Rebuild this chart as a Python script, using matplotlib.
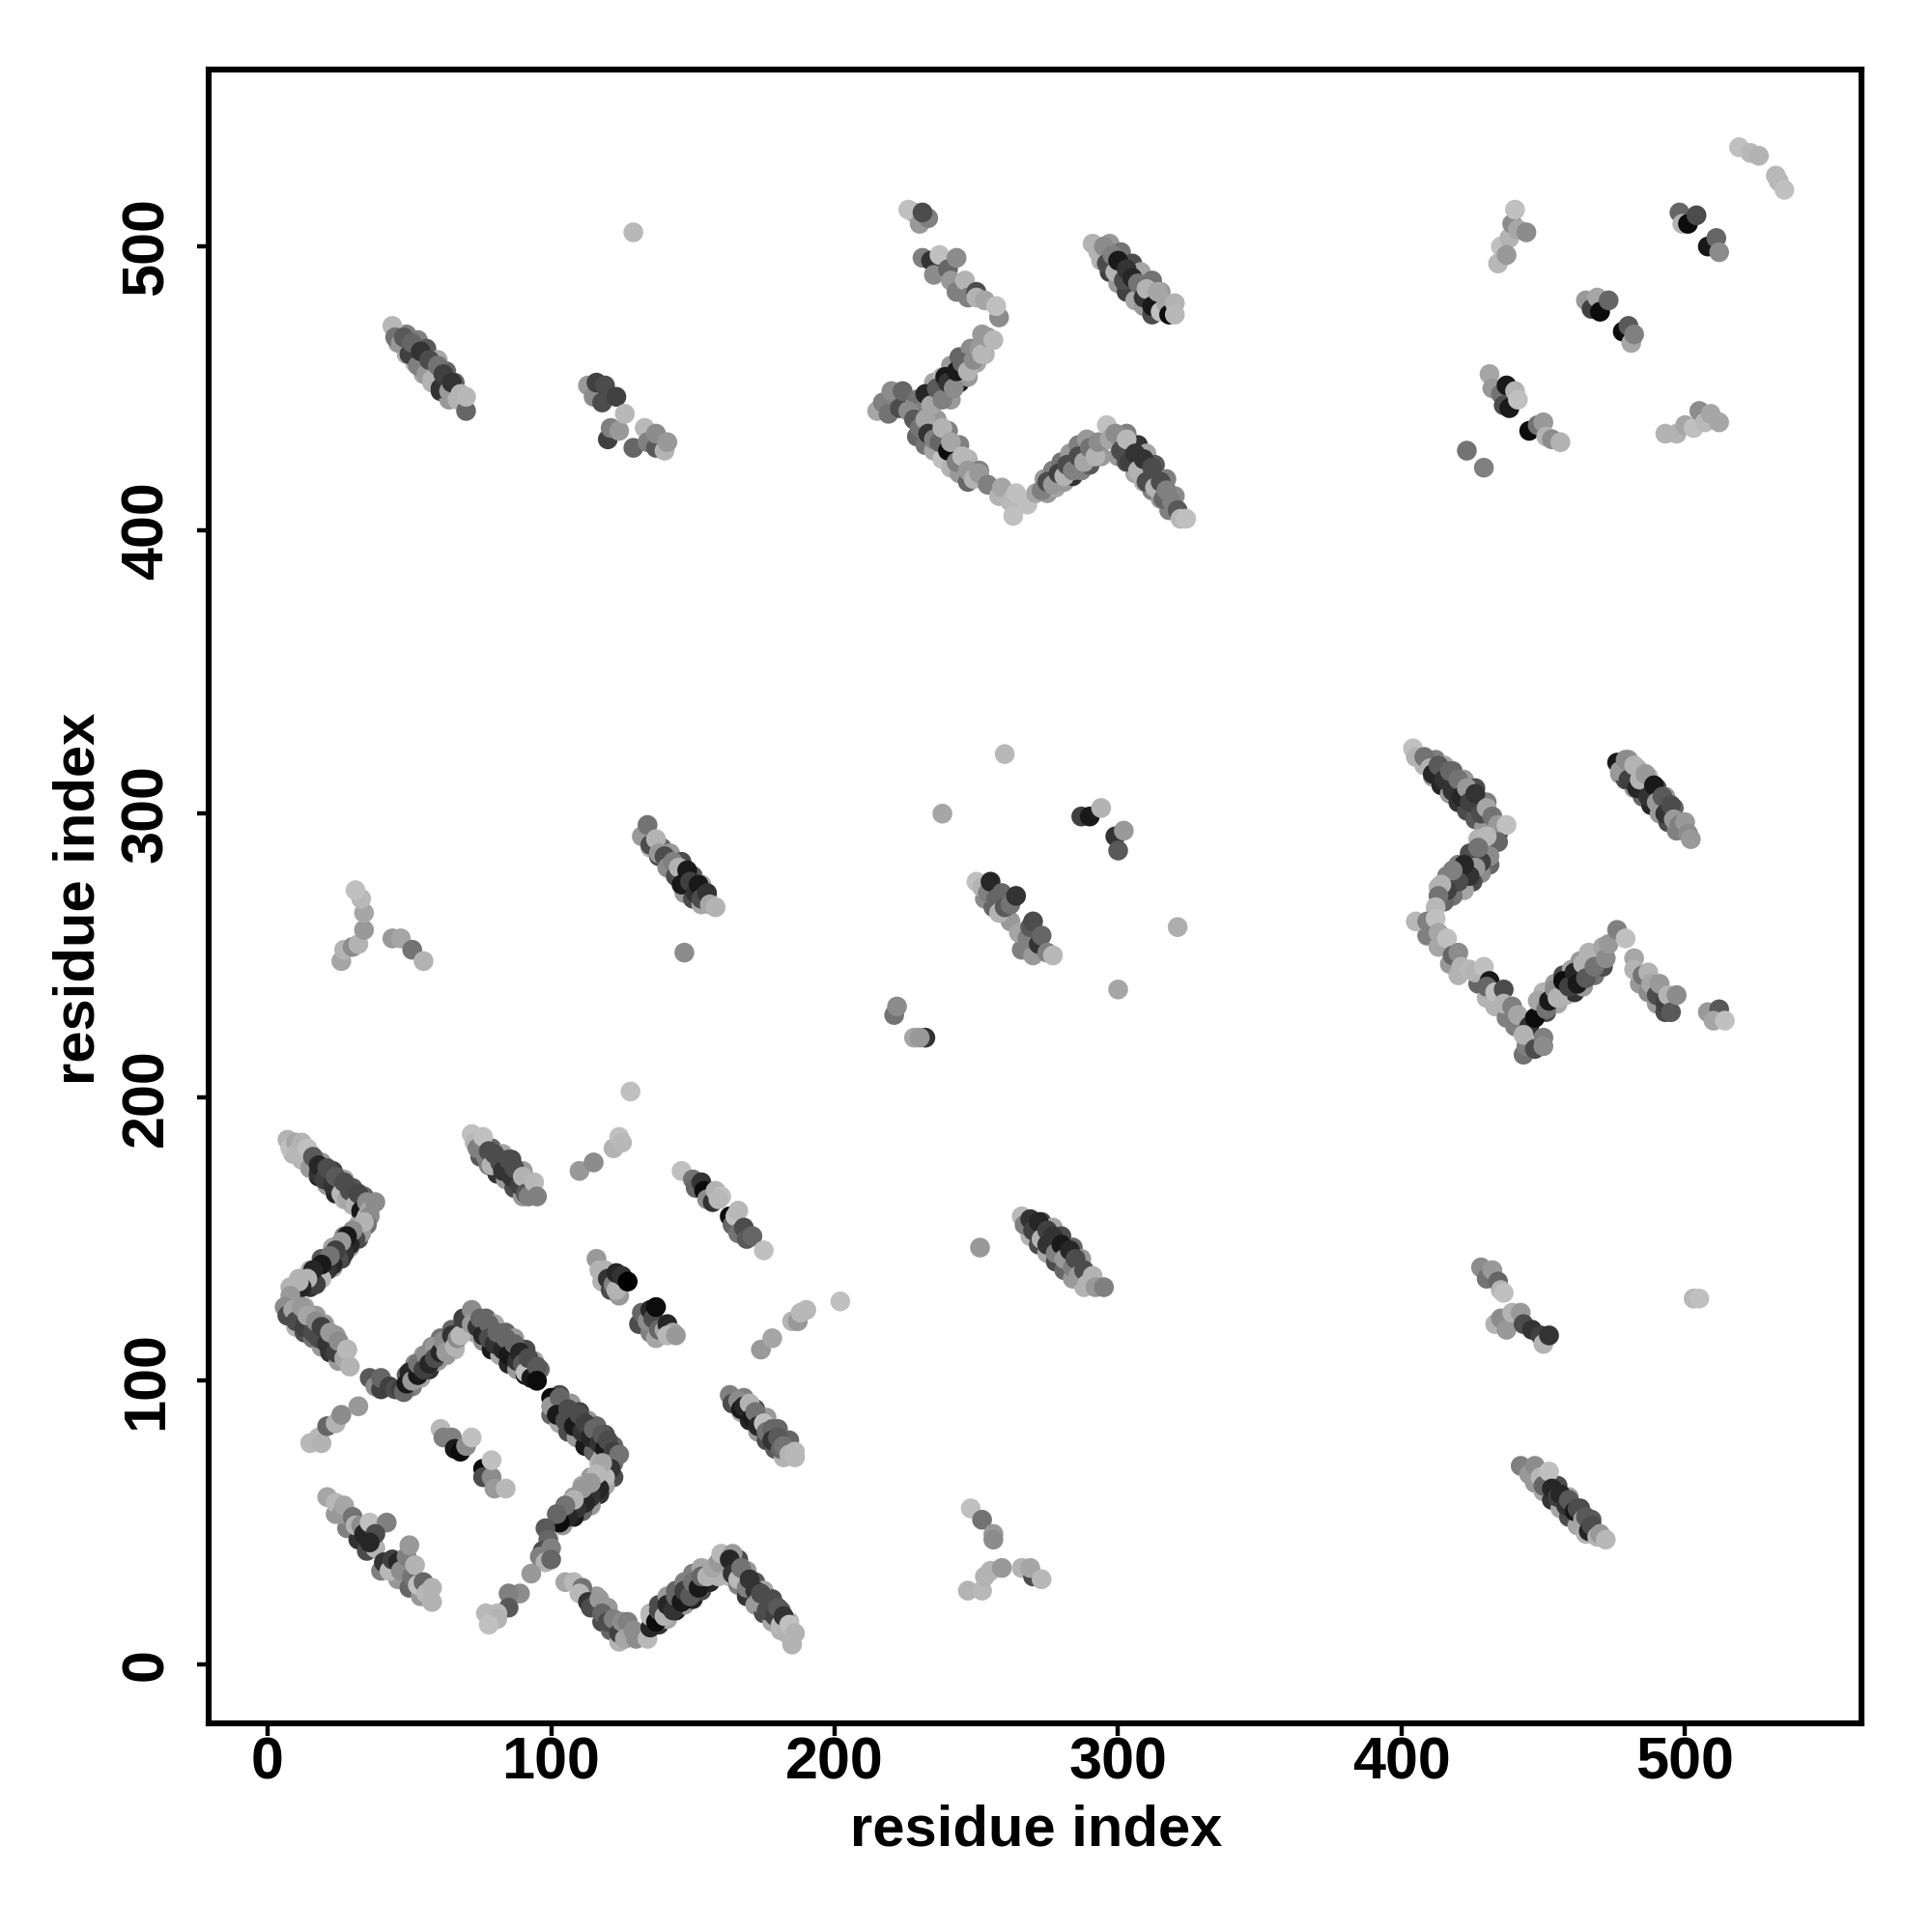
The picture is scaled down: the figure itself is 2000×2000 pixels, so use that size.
import matplotlib
matplotlib.use("Agg")
import matplotlib.pyplot as plt

plt.rcParams['font.family'] = ['Liberation Sans', 'DejaVu Sans']
plt.rcParams['font.weight'] = 'bold'

# every entry: (residue i, residue j, shade)
# side rows of the broad bands, drawn first
under_a1 = [(9,180,.7),(12,178,.7),(15,175,.55),(18,172,.15),(21,169,.6),(24,166,.15),(27,164,.7),(30,162,.7),(33,159,.3),(15,180,.3),(19,177,.6),(23,174,.25),(27,171,.65),(30,168,.35),(34,165,.4)]
under_a2 = [(32,150,.3),(29,147,.65),(26,143,.25),(23,140,.6),(19,137,.35),(15,133,.2),(10,131,.6),(32,155,.65),(27,151,.5),(23,147,.65),(19,143,.35),(15,139,.7),(11,136,.7)]
under_a3 = [(7,123,.6),(10,119,.7),(13,117,.3),(16,115,.45),(19,112,.6),(22,110,.2),(25,107,.6),(13,126,.65),(17,123,.6),(20,120,.6),(24,116,.6),(28,111,.45)]
under_a4 = [(51,98,.5),(54,101,.65),(57,104,.2),(60,107,.6),(63,109,.6),(66,111,.7),(49,102,.4),(52,106,.55),(55,109,.6),(58,112,.55),(61,115,.45),(65,118,.4)]
under_a5 = [(73,117,.65),(76,114,.55),(79,111,.1),(82,109,.65),(85,106,.15),(88,104,.6),(91,102,.05),(93,101,.7),(77,122,.4),(80,120,.65),(84,117,.4),(87,115,.6),(91,111,.3),(94,107,.65),(96,104,.4)]
under_a6 = [(100,88,.4),(103,85,.65),(106,82,.3),(109,80,.6),(112,77,.1),(115,75,.4),(118,73,.6),(120,71,.1),(103,95,.3),(107,92,.6),(110,89,.25),(113,86,.6),(116,84,.4),(119,81,.3),(122,77,.4)]
under_a7 = [(122,66,.3),(119,63,.65),(117,60,.2),(114,56,.6),(111,54,.4),(108,52,.1),(104,49,.6),(117,71,.7),(114,66,.6),(111,63,.65),(108,59,.6),(105,56,.5)]
under_b1 = [(118,15,.3),(121,12,.4),(124,8,.7),(116,24,.6),(120,20,.6)]
under_b2 = [(138,14,.2),(141,16,.65),(144,19,.1),(147,21,.6),(150,23,.15),(153,26,.3),(156,29,.15),(159,31,.7),(135,18,.7),(138,21,.3),(141,24,.6),(144,26,.4),(147,29,.5),(150,32,.5),(153,34,.65)]
under_b3 = [(163,31,.7),(166,28,.5),(169,24,.2),(172,21,.6),(175,18,.3),(178,15,.65),(181,12,.7),(166,37,.3),(169,33,.6),(172,29,.35),(175,26,.65),(178,23,.3),(181,19,.35),(184,15,.7)]
under_sb = [(75,179,.35),(78,176,.5),(81,173,.2),(84,171,.6),(87,168,.3),(90,165,.6),(79,182,.4),(83,180,.65),(86,178,.3),(90,174,.6),(93,170,.4)]
under_z1 = [(408,317,.7),(411,313,.6),(414,310,.15),(417,307,.6),(420,304,.2),(423,301,.3),(426,298,.35),(429,295,.6),(412,319,.5),(415,317,.65),(418,315,.4),(422,312,.6),(426,309,.3),(430,304,.5)]
under_z2 = [(431,282,.4),(428,279,.55),(425,276,.3),(422,273,.65),(418,271,.45),(415,269,.4),(427,291,.7),(424,286,.3),(420,282,.5),(416,278,.5),(413,274,.7)]
under_z3 = [(409,257,.5),(413,253,.65),(417,247,.6),(420,243,.7),(427,240,.4),(430,235,.7),(433,232,.7),(437,228,.5),(440,225,.5)]
under_z4 = [(451,230,.3),(455,233,.65),(458,236,.7),(461,237,.2),(464,239,.6),(468,243,.45),(471,246,.3),(450,237,.7),(454,240,.6),(457,243,.3),(460,245,.65),(463,248,.6),(466,251,.7)]
under_z5 = [(484,240,.6),(487,237,.55),(490,233,.6),(493,230,.3)]
under_aa = [(477,314,.6),(479,312,.3),(482,309,.6),(485,306,.4),(488,303,.15),(491,300,.6),(494,297,.3),(497,294,.5),(480,319,.6),(483,316,.65),(487,313,.7),(490,309,.3),(493,306,.6),(496,302,.4)]
under_t = [(135,288,.7),(138,285,.3),(141,281,.65),(144,278,.3),(147,272,.6),(150,270,.3),(153,268,.65),(139,288,.4),(142,286,.6),(146,283,.3),(150,278,.35),(153,275,.65)]
under_m = [(269,151,.7),(272,148,.3),(275,145,.65),(278,142,.3),(281,139,.4),(284,136,.6),(288,133,.7),(273,156,.3),(277,154,.65),(280,151,.3),(284,147,.4),(287,143,.6)]
under_p = [(447,64,.6),(450,61,.65),(453,58,.2),(456,55,.65),(459,52,.3),(462,49,.65),(465,46,.7),(451,65,.6),(455,63,.3),(459,59,.65),(463,55,.3),(467,51,.35)]
under_f = [(164,92,.3),(167,89,.65),(170,86,.15),(173,82,.6),(176,79,.3),(179,76,.35),(182,73,.7),(168,94,.5),(172,90,.3),(176,87,.6),(180,83,.4),(184,79,.4)]
under_ab = [(46,466,.6),(49,462,.7),(52,459,.7),(55,455,.65),(58,452,.7),(61,449,.2),(64,446,.6),(49,469,.5),(53,467,.5),(56,464,.35),(60,460,.65),(63,456,.4),(66,452,.4)]
under_ag = [(294,495,.7),(297,491,.25),(300,487,.6),(303,484,.25),(306,481,.65),(309,479,.6),(312,476,.3),(297,501,.6),(301,498,.45),(305,494,.3),(308,491,.65),(312,488,.45),(315,484,.6)]
under_zb = [(235,445,.3),(238,448,.65),(241,446,.6),(244,452,.1),(247,454,.6),(250,459,.65),(253,462,.7),(235,452,.65),(238,454,.7),(241,458,.6),(244,461,.4),(248,464,.55),(252,469,.6)]
under_zc = [(229,433,.4),(232,430,.45),(235,428,.65),(238,425,.75),(241,422,.7),(244,420,.6),(247,417,.4),(232,442,.3),(236,439,.6),(240,435,.5),(244,430,.5),(247,425,.7),(251,421,.5)]
under_zd = [(275,413,.6),(278,415,.65),(281,417,.6),(284,419,.2),(287,421,.5),(290,423,.35),(294,426,.6),(274,418,.6),(277,421,.5),(280,424,.45),(283,427,.6),(286,430,.5),(289,432,.6)]
under_ze = [(300,426,.6),(303,424,.3),(306,420,.65),(309,417,.7),(312,414,.5),(315,411,.6),(318,407,.5),(303,434,.5),(307,430,.2),(310,427,.65),(313,423,.35),(317,418,.5),(320,412,.55)]
under_w = [(253,270,.55),(256,267,.4),(262,262,.6),(266,252,.5),(270,250,.6)]
under_e = [(118,135,.7),(121,132,.3),(124,130,.6),(131,120,.3),(135,117,.5),(137,115,.65)]
under_i = [(24,53,.6),(28,48,.5),(32,44,.2),(35,40,.3),(40,33,.5),(46,30,.6),(50,27,.4),(54,24,.6)]

arm_a1 = [(7,185,.7),(8,182,.75),(10,184,.65),(10,180,.72),(12,184,.7),(13,178,.72),(14,182,.75),(15,175,.6),(16,179,.35),(18,173,.2),(18,176,.15),(20,171,.25),(21,175,.3),(23,169,.2),(24,172,.35),(26,166,.72),(27,170,.3),(28,164,.65),(29,167,.3),(31,162,.7),(32,166,.28),(33,160,.1),(35,163,.55),(35,158,.72),(36,160,.65),(38,163,.55)]
arm_a2 = [(36,158,.55),(35,155,.45),(33,152,.6),(31,150,.3),(34,156,.7),(29,148,.15),(30,153,.55),(27,145,.2),(28,151,.1),(25,143,.3),(26,149,.6),(23,141,.15),(24,146,.25),(21,139,.2),(22,144,.45),(19,136,.72),(19,141,.1),(17,134,.25),(16,139,.15),(14,136,.7),(12,133,.15),(11,135,.7),(8,133,.7),(8,130,.6)]
arm_a3 = [(6,126,.55),(7,123,.3),(9,125,.65),(10,121,.3),(12,126,.6),(13,119,.25),(14,123,.65),(16,117,.3),(17,121,.55),(18,115,.3),(19,119,.25),(21,113,.2),(22,117,.6),(24,110,.25),(25,114,.55),(27,108,.65),(28,111,.72),(29,105,.7)]
link_a = [(36,101,.35),(38,98,.55),(40,97,.25),(40,101,.4),(43,98,.25),(45,97,.3),(47,97,.25)]
arm_a4 = [(48,96,.4),(49,99,.1),(50,103,.15),(51,100,.6),(53,102,.1),(53,106,.45),(55,104,.25),(56,109,.55),(57,106,.15),(59,112,.6),(59,108,.3),(61,110,.15),(62,114,.55),(63,110,.6),(65,116,.2),(66,112,.7),(67,115,.55),(69,119,.25),(68,116,.72),(69,122,.25)]
arm_a5 = [(72,125,.55),(72,120,.6),(74,119,.2),(75,122,.4),(76,116,.15),(78,120,.4),(78,115,.3),(80,113,.2),(81,117,.4),(83,111,.15),(84,115,.4),(85,109,.1),(87,113,.4),(88,107,.2),(89,110,.15),(90,106,.35),(91,103,.75),(92,108,.3),(93,101,.1),(95,105,.35),(95,100,.05)]
arm_a6 = [(100,94,.05),(100,91,.6),(103,94,.4),(102,88,.1),(105,86,.3),(106,90,.3),(108,84,.1),(110,88,.3),(111,82,.2),(112,85,.25),(114,80,.15),(115,83,.4),(117,78,.2),(118,81,.35),(119,76,.1),(120,79,.3),(122,75,.25),(122,71,.45),(124,74,.45)]
arm_a7 = [(121,69,.2),(119,66,.72),(118,71,.65),(117,62,.15),(116,67,.72),(114,59,.2),(114,64,.6),(112,57,.15),(111,62,.6),(109,55,.2),(108,58,.7),(106,52,.15),(105,56,.45),(103,50,.05),(102,53,.4)]
link_b = [(98,48,.35),(99,44,.4),(97,40,.3),(96,38,.5),(100,41,.5),(98,36,.7),(100,37,.4),(93,32,.6),(89,25,.55),(85,25,.5),(85,20,.35),(81,18,.72),(77,18,.72),(81,16,.7),(78,14,.75)]
arm_b1 = [(105,29,.65),(108,29,.72),(111,27,.45),(110,25,.72),(113,22,.2),(114,20,.3),(117,23,.6),(118,18,.4),(120,15,.3),(122,16,.5),(124,11,.25),(125,15,.55),(127,15,.5),(126,9,.65),(129,12,.55),(130,9,.55),(134,9,.72)]
arm_b2 = [(135,13,.15),(135,17,.72),(137,15,.05),(138,19,.3),(140,17,.7),(141,21,.15),(143,19,.2),(144,24,.4),(146,22,.1),(147,26,.25),(149,24,.35),(150,29,.45),(152,27,.1),(153,31,.4),(155,31,.7),(157,34,.65),(159,36,.6),(160,39,.72),(164,39,.6)]
arm_b3 = [(163,37,.15),(164,32,.2),(166,30,.72),(167,34,.45),(169,27,.5),(170,30,.2),(172,26,.2),(173,22,.6),(174,25,.3),(176,19,.3),(177,22,.3),(179,17,.25),(180,20,.35),(181,14,.72),(182,17,.2),(183,11,.7),(184,14,.75),(185,7,.7),(186,11,.7)]
strand_b = [(72,187,.75),(73,184,.72),(74,182,.5),(76,186,.75),(77,179,.5),(78,181,.3),(79,176,.7),(80,180,.3),(82,177,.3),(83,174,.2),(85,178,.3),(86,172,.2),(87,175,.3),(89,169,.25),(90,172,.7),(91,166,.35),(92,165,.5),(94,170,.72),(95,165,.5)]
spot_c = [(110,174,.6),(115,177,.55),(122,182,.7),(124,186,.75),(125,184,.72),(128,202,.75)]
strand_d1 = [(146,174,.75),(150,171,.45),(151,168,.4),(153,170,.2),(154,167,.05),(155,164,.55),(157,163,.2),(158,167,.7),(160,165,.75),(159,164,.72)]
strand_d2 = [(163,158,.05),(164,155,.4),(165,158,.75),(166,160,.72),(166,152,.45),(168,154,.3),(169,150,.35),(171,151,.4),(175,146,.75)]
strand_e1 = [(116,143,.6),(117,139,.7),(119,139,.7),(120,136,.2),(122,134,.5),(123,132,.7),(123,138,.15),(125,137,.2),(127,135,.0)]
strand_e2 = [(132,124,.4),(134,121,.55),(135,125,.15),(136,122,.3),(137,126,.05),(138,118,.4),(140,118,.65),(141,120,.15),(143,117,.65),(141,116,.72),(144,116,.6)]
strand_f = [(163,95,.5),(164,92,.3),(166,93,.55),(167,90,.1),(168,91,.15),(170,92,.7),(171,87,.1),(172,89,.45),(173,84,.15),(175,85,.75),(176,82,.45),(178,83,.4),(178,79,.2),(180,80,.35),(181,76,.4),(182,77,.45),(184,74,.7),(186,75,.72),(186,73,.72)]
spot_g = [(174,111,.6),(178,115,.65),(185,121,.7),(187,121,.6),(190,125,.72),(188,124,.72),(202,128,.75)]
strand_h1 = [(61,83,.72),(62,80,.5),(65,80,.5),(66,76,.1),(68,75,.05),(70,77,.55),(72,80,.75)]
strand_h2 = [(76,69,.05),(76,66,.3),(79,66,.55),(79,72,.75),(80,62,.6),(84,62,.72)]
strand_i1 = [(21,59,.65),(24,57,.72),(26,53,.6),(27,56,.65),(30,52,.45),(31,49,.7),(33,49,.55),(34,46,.15),(36,50,.75),(37,44,.1),(38,41,.7),(42,50,.5),(38,46,.3),(36,43,.15)]
strand_i2 = [(41,36,.2),(43,33,.72),(44,37,.25),(46,36,.15),(47,33,.55),(49,38,.5),(50,42,.6),(51,31,.45),(52,35,.7),(53,28,.75),(55,29,.4),(56,25,.72),(58,27,.7),(58,22,.7)]
spot_j = [(15,78,.72),(18,80,.72),(19,78,.7),(21,84,.4),(24,85,.7),(26,88,.55),(32,91,.6)]
spot_l = [(251,147,.6)]
strand_m = [(266,158,.72),(267,155,.5),(269,157,.2),(270,153,.25),(272,156,.15),(273,150,.7),(275,153,.25),(275,148,.2),(277,151,.2),(278,145,.5),(280,148,.1),(281,143,.6),(283,146,.15),(284,140,.5),(285,143,.3),(286,137,.6),(288,139,.3),(289,134,.7),(291,137,.7),(292,133,.6),(295,133,.5)]
strand_n = [(428,140,.55),(430,136,.45),(432,139,.6),(434,135,.4),(435,132,.7),(436,131,.75),(433,120,.7),(435,122,.55),(437,118,.6),(439,124,.7),(442,124,.6),(443,120,.3),(446,118,.2),(449,116,.25),(450,113,.7),(452,116,.2)]
spot_o = [(503,129,.72),(505,129,.75)]
strand_p = [(442,70,.5),(445,67,.6),(447,70,.55),(449,66,.72),(450,63,.4),(452,68,.75),(453,62,.15),(455,59,.25),(456,60,.15),(458,56,.2),(459,58,.35),(461,54,.1),(462,55,.3),(464,51,.65),(465,52,.35),(466,47,.15),(467,49,.3),(469,45,.7),(470,46,.6),(472,44,.72)]
spot_q = [(248,55,.75),(252,51,.45),(256,46,.6),(256,44,.55),(247,26,.7),(252,26,.72),(253,31,.7),(255,33,.7),(259,34,.6),(266,34,.7),(270,31,.3),(269,34,.65),(273,30,.72)]
spot_s = [(26,248,.65),(27,252,.7),(30,253,.55),(32,254,.7),(34,259,.6),(34,265,.65),(33,270,.72),(31,273,.75),(44,256,.6),(47,256,.65),(51,252,.45),(55,248,.7)]
strand_t = [(132,292,.6),(134,296,.45),(135,289,.3),(137,291,.7),(138,286,.6),(140,285,.3),(141,281,.55),(143,283,.5),(144,278,.3),(145,281,.7),(146,275,.1),(148,280,.1),(149,276,.25),(151,272,.2),(152,275,.1),(153,270,.3),(155,272,.2),(156,268,.65),(158,267,.7)]
spot_u = [(147,251,.55),(260,321,.72),(238,300,.65),(321,260,.68),(300,238,.65)]
strand_w = [(250,276,.75),(252,274,.7),(254,272,.5),(255,276,.15),(257,270,.4),(258,265,.7),(259,272,.4),(260,267,.35),(262,268,.45),(264,271,.2),(265,258,.65),(268,256,.5),(269,260,.35),(270,262,.3),(272,254,.2),(273,257,.4),(275,251,.5),(277,250,.72)]
spot_x = [(221,229,.45),(222,232,.55),(228,221,.65),(232,221,.2),(230,221,.6)]
spot_y = [(287,299,.25),(290,299,.1),(294,302,.7),(299,292,.2),(300,287,.35),(302,294,.6)]
arm_z1 = [(404,323,.75),(405,320,.7),(408,320,.45),(410,316,.7),(411,314,.15),(413,317,.35),(415,312,.2),(417,315,.4),(418,308,.2),(420,312,.45),(421,306,.15),(423,309,.6),(424,304,.25),(426,307,.2),(428,300,.3),(430,302,.65),(432,299,.45),(434,293,.25),(434,296,.6),(437,296,.75)]
arm_z2 = [(434,290,.4),(431,285,.55),(430,292,.72),(428,283,.25),(426,281,.6),(427,288,.45),(424,278,.2),(422,282,.15),(420,276,.3),(418,280,.5),(416,273,.25),(414,275,.7),(413,271,.45),(412,267,.72)]
arm_z3 = [(405,262,.72),(409,262,.5),(412,263,.75),(413,258,.65),(416,256,.75),(418,250,.4),(420,251,.55),(421,246,.7),(424,245,.72),(426,244,.7),(429,246,.75),(431,241,.1),(430,239,.4),(433,237,.75),(436,238,.3),(436,233,.7),(439,232,.5),(441,229,.65)]
arm_z4 = [(443,215,.45),(444,218,.5),(445,225,.2),(443,222,.7),(447,228,.05),(447,217,.3),(450,221,.5),(450,218,.55),(448,234,.65),(451,231,.45),(452,234,.1),(454,238,.55),(455,235,.7),(457,241,.05),(459,239,.25),(461,244,.15),(462,240,.1),(464,247,.7),(465,242,.35),(467,250,.7),(468,246,.45),(471,253,.65),(472,249,.55),(473,254,.6),(476,259,.5),(479,256,.75)]
arm_z5 = [(482,249,.65),(482,245,.7),(485,243,.45),(487,244,.7),(488,240,.65),(490,236,.3),(491,240,.6),(493,233,.25),(494,236,.7),(495,230,.35),(497,236,.55),(508,230,.6),(512,231,.35),(510,227,.65),(514,227,.75)]
strand_aa = [(476,318,.1),(477,315,.6),(479,319,.55),(480,312,.25),(482,317,.7),(483,309,.15),(484,312,.7),(486,314,.6),(487,306,.2),(489,310,.1),(490,304,.6),(492,306,.35),(493,300,.2),(495,303,.3),(496,298,.6),(498,296,.5),(500,297,.6),(501,293,.55),(502,291,.6)]
strand_ab = [(44,472,.72),(45,468,.45),(47,466,.6),(48,468,.35),(50,462,.25),(51,466,.4),(53,458,.5),(54,463,.2),(56,455,.6),(57,460,.3),(58,453,.7),(60,458,.45),(61,450,.2),(62,455,.25),(64,449,.6),(65,452,.2),(67,446,.7),(70,442,.4),(68,448,.7),(70,447,.72)]
strand_ac = [(113,451,.6),(115,447,.55),(116,452,.25),(118,445,.3),(119,451,.3),(120,432,.25),(121,436,.5),(123,447,.25),(124,435,.6),(126,441,.72),(129,429,.4),(133,436,.72),(134,431,.5),(137,429,.35),(137,434,.55),(140,428,.7),(141,431,.6)]
spot_ad = [(129,505,.72),(228,512,.65),(226,513,.75),(230,508,.6),(233,510,.5),(231,512,.3)]
strand_af = [(231,496,.5),(234,495,.2),(235,490,.55),(237,497,.75),(240,492,.4),(241,488,.6),(243,484,.5),(243,496,.55),(246,488,.7),(247,482,.5),(250,484,.3),(250,482,.7),(253,481,.65)]
zig_a = [(215,442,.65),(217,445,.5),(219,441,.45),(220,449,.55),(223,443,.3),(224,449,.4)]
zig_b = [(229,446,.45),(231,442,.5),(232,448,.15),(234,444,.65),(236,450,.35),(238,446,.5),(239,454,.1),(240,452,.2),(242,450,.55),(243,456,.1),(245,459,.4),(247,456,.7),(249,460,.55),(251,464,.6),(252,462,.72),(254,468,.6),(256,467,.72),(258,475,.55),(257,479,.75)]
zig_c = [(226,442,.55),(228,439,.35),(230,436,.45),(232,439,.65),(233,434,.2),(235,432,.5),(237,431,.4),(238,436,.7),(240,428,.05),(241,431,.65),(243,424,.5),(245,426,.72),(247,421,.6),(249,418,.7),(251,420,.6),(254,416,.5),(258,412,.7),(259,415,.65),(262,410,.72),(263,405,.75),(264,413,.75),(268,409,.75)]
zig_d = [(271,413,.65),(273,414,.5),(275,417,.3),(277,416,.6),(279,420,.25),(281,419,.7),(282,423,.3),(284,421,.5),(286,426,.3),(288,424,.65),(290,429,.45),(292,426,.7),(293,431,.55),(296,437,.75)]
zig_e = [(297,432,.65),(299,434,.55),(301,428,.3),(303,432,.72),(304,424,.25),(306,427,.2),(307,421,.7),(309,425,.2),(310,417,.3),(312,422,.3),(313,415,.7),(315,417,.3),(316,411,.4),(317,414,.5),(319,410,.5),(321,407,.35),(322,404,.72),(324,404,.75)]
strand_ag = [(291,501,.7),(293,498,.7),(295,500,.55),(296,494,.3),(298,497,.5),(299,491,.7),(300,495,.1),(302,488,.3),(303,492,.2),(305,489,.15),(307,487,.45),(309,482,.2),(310,485,.7),(312,479,.1),(314,484,.65),(315,477,.75),(317,480,.65),(318,476,.05),(320,480,.7),(320,476,.72)]
spot_ah = [(423,428,.45),(429,422,.5)]
strand_ai1 = [(431,455,.65),(432,450,.6),(435,448,.45),(436,444,.3),(437,451,.1),(438,443,.1),(440,449,.7),(441,446,.75)]
strand_ai2 = [(445,435,.05),(448,437,.45),(450,438,.6),(451,433,.7),(453,432,.55),(456,431,.7)]
spot_aj = [(434,494,.72),(435,500,.75),(438,503,.7),(437,497,.6),(439,508,.55),(440,513,.75),(441,506,.65),(444,505,.55)]
spot_ak = [(498,512,.4),(499,508,.7),(501,508,.05),(504,511,.3),(508,500,.1),(511,503,.4),(512,498,.55)]
spot_al = [(519,535,.75),(523,533,.72),(526,532,.7),(532,525,.72),(533,523,.72),(535,520,.75)]
spot_am = [(465,481,.6),(467,478,.25),(469,482,.65),(470,477,.05),(473,481,.4),(478,470,.05),(480,472,.35),(481,466,.65),(482,469,.5)]
spot_an = [(493,434,.7),(497,434,.7),(500,437,.65),(503,436,.75),(505,442,.55),(507,438,.72),(509,441,.65),(512,438,.65)]

clusters = [under_a1, under_a2, under_a3, under_a4, under_a5, under_a6, under_a7, under_b1,
            under_b2, under_b3, under_sb, under_z1, under_z2, under_z3, under_z4, under_z5,
            under_aa, under_t, under_m, under_p, under_f, under_ab, under_ag, under_zb,
            under_zc, under_zd, under_ze, under_w, under_e, under_i,
            arm_a1, arm_a2, arm_a3, link_a, arm_a4, arm_a5, arm_a6, arm_a7, link_b,
            arm_b1, arm_b2, arm_b3, strand_b, spot_c, strand_d1, strand_d2, strand_e1,
            strand_e2, strand_f, spot_g, strand_h1, strand_h2, strand_i1, strand_i2,
            spot_j, spot_l, strand_m, strand_n, spot_o, strand_p, spot_q, spot_s,
            strand_t, spot_u, strand_w, spot_x, spot_y, arm_z1, arm_z2, arm_z3, arm_z4,
            arm_z5, strand_aa, strand_ab, strand_ac, spot_ad, strand_af, zig_a, zig_b,
            zig_c, zig_d, zig_e, strand_ag, spot_ah, strand_ai1, strand_ai2, spot_aj,
            spot_ak, spot_al, spot_am, spot_an]
tick_values = [0, 100, 200, 300, 400, 500]
axis_label = "residue index"

fig = plt.figure(figsize=(20, 20), dpi=100)
ax = fig.add_axes([216/2000, 1-1784/2000, (1927-216)/2000, (1784-72)/2000])
for group in clusters:
    xs = [p[0] for p in group]
    ys = [p[1] for p in group]
    shades = [p[2] for p in group]
    ax.scatter(xs, ys, c=shades, cmap='gray', vmin=0, vmax=1, s=218, linewidths=0, zorder=2)

ax.set_xlim(-20.8, 562.2)
ax.set_ylim(-20.8, 562.4)
ax.set_xticks(tick_values)
ax.set_yticks(tick_values)
ax.tick_params(axis='both', length=9, width=3.2, labelsize=44)
ax.tick_params(axis='x', pad=1)
ax.tick_params(axis='y', pad=16)
for lab in ax.get_yticklabels():
    lab.set_rotation(90)
    lab.set_va('center')
for lab in ax.get_xticklabels() + ax.get_yticklabels():
    lab.set_fontweight('bold')
for s in ax.spines.values():
    s.set_linewidth(4.4)
ax.set_xlabel(axis_label, fontsize=43, fontweight='bold')
ax.set_ylabel(axis_label, fontsize=43, fontweight='bold')
ax.xaxis.set_label_coords((1073-216)/1711, -(1895-1784)/1712, transform=ax.transAxes)
ax.yaxis.set_label_coords(-(216-82)/1711, (1784-930)/1712, transform=ax.transAxes)
ax.xaxis.label.set_va('center')
ax.yaxis.label.set_va('center')
fig.savefig('out.png', dpi=100, facecolor='white')
